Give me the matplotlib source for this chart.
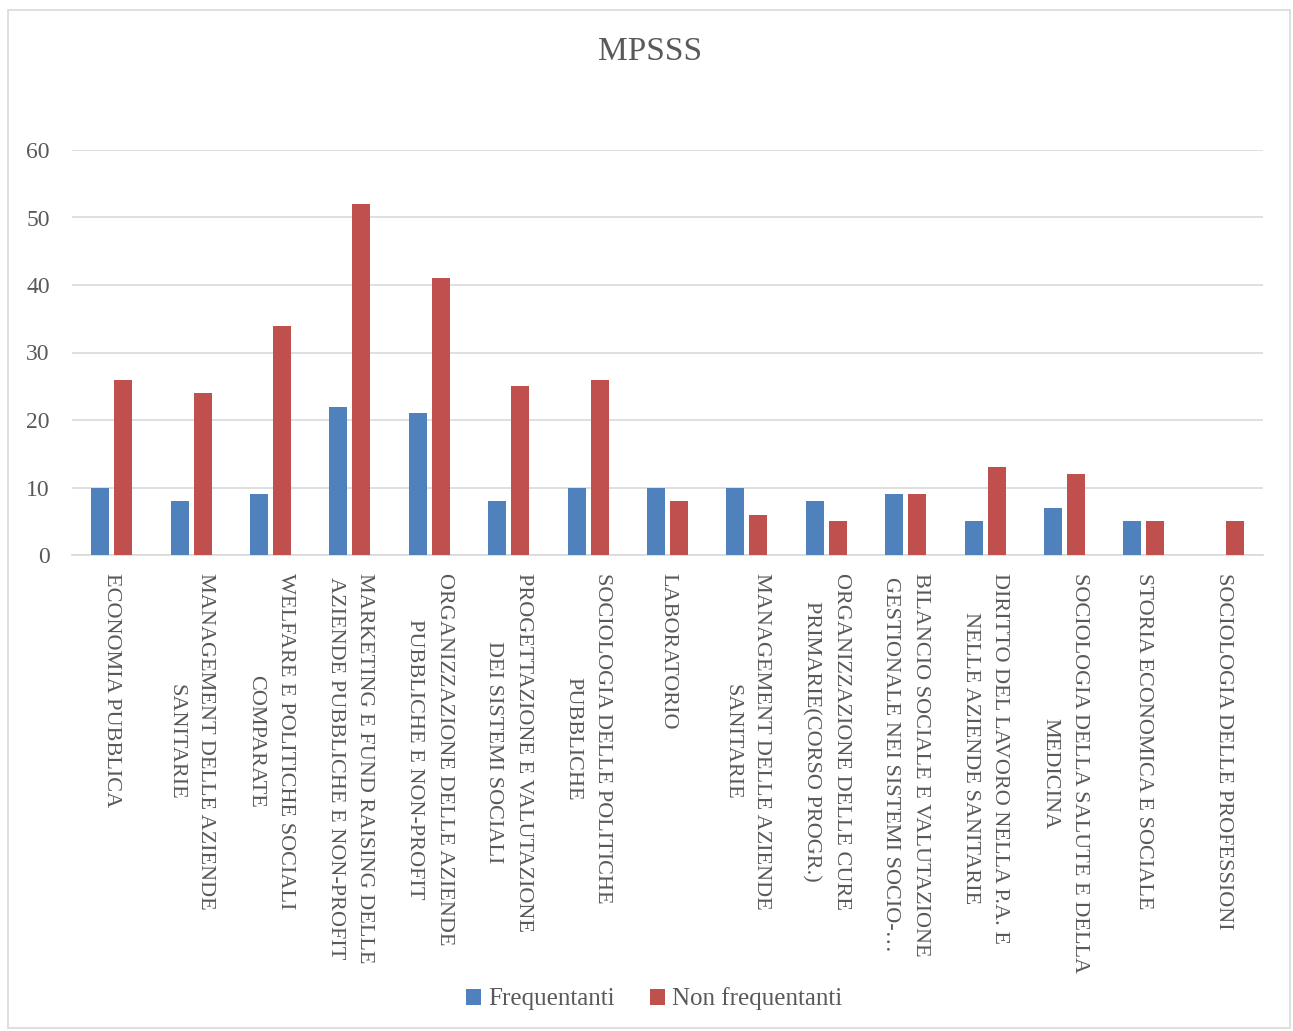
import numpy as np
from matplotlib import pyplot as plt
from matplotlib.patches import Rectangle

plt.rcParams['font.family'] = ['Liberation Serif', 'DejaVu Serif']

title = "MPSSS"
categories = [
    "ECONOMIA PUBBLICA",
    "MANAGEMENT DELLE AZIENDE\nSANITARIE",
    "WELFARE E POLITICHE SOCIALI\nCOMPARATE",
    "MARKETING E FUND RAISING DELLE\nAZIENDE PUBBLICHE E NON-PROFIT",
    "ORGANIZZAZIONE DELLE AZIENDE\nPUBBLICHE E NON-PROFIT",
    "PROGETTAZIONE E VALUTAZIONE\nDEI SISTEMI SOCIALI",
    "SOCIOLOGIA DELLE POLITICHE\nPUBBLICHE",
    "LABORATORIO",
    "MANAGEMENT DELLE AZIENDE\nSANITARIE",
    "ORGANIZZAZIONE DELLE CURE\nPRIMARIE(CORSO PROGR.)",
    "BILANCIO SOCIALE E VALUTAZIONE\nGESTIONALE NEI SISTEMI SOCIO-…",
    "DIRITTO DEL LAVORO NELLA P.A. E\nNELLE AZIENDE SANITARIE",
    "SOCIOLOGIA DELLA SALUTE E DELLA\nMEDICINA",
    "STORIA ECONOMICA E SOCIALE",
    "SOCIOLOGIA DELLE PROFESSIONI",
]
frequentanti = [10, 8, 9, 22, 21, 8, 10, 10, 10, 8, 9, 5, 7, 5, 0]
non_frequentanti = [26, 24, 34, 52, 41, 25, 26, 8, 6, 5, 9, 13, 12, 5, 5]
series_names = ["Frequentanti", "Non frequentanti"]
y_ticks = [0, 10, 20, 30, 40, 50, 60]

text_color = '#595959'
grid_color = '#D9D9D9'
blue = '#4F81BD'
red = '#C0504D'

fig = plt.figure(figsize=(12.93, 10.31), dpi=100)
ax = fig.add_axes([72 / 1293, 1 - 555 / 1031, (1263 - 72) / 1293, (555 - 150) / 1031])

x = np.arange(len(categories))
bar_w = 0.227
off = 0.145
ax.bar(x - off, frequentanti, bar_w, color=blue, label=series_names[0], zorder=3)
ax.bar(x + off, non_frequentanti, bar_w, color=red, label=series_names[1], zorder=3)

ax.set_xlim(-0.5, len(categories) - 0.5)
ax.set_ylim(0, 60)
ax.set_yticks(y_ticks)
ax.yaxis.grid(True, color=grid_color, linewidth=1.2, zorder=0)
ax.set_axisbelow(True)
for s in ['top', 'right', 'left']:
    ax.spines[s].set_visible(False)
ax.spines['bottom'].set_color(grid_color)
ax.spines['bottom'].set_linewidth(1.2)
ax.tick_params(axis='both', length=0, colors=text_color)
ax.tick_params(axis='y', labelsize=17, pad=16)
ax.tick_params(axis='x', pad=13)

ax.set_xticks(x)
ax.set_xticklabels(categories, rotation=270, ha='center', va='top',
                   multialignment='center', fontsize=16, linespacing=1.75,
                   color=text_color)

fig.text(650 / 1293, 1 - 52 / 1031, title, ha='center', va='center',
         fontsize=24, color=text_color)

fig.legend(loc='center', bbox_to_anchor=(654 / 1293, 1 - 999 / 1031), ncol=2,
           frameon=False, fontsize=18, handlelength=0.6, handleheight=0.6,
           handletextpad=0.3, columnspacing=1.4, labelcolor=text_color)

fig.patches.append(Rectangle((8 / 1293, 3 / 1031), 1282 / 1293, 1018 / 1031,
                             transform=fig.transFigure, fill=False,
                             edgecolor=grid_color, linewidth=1.2))

fig.savefig('out.png', dpi=100)
